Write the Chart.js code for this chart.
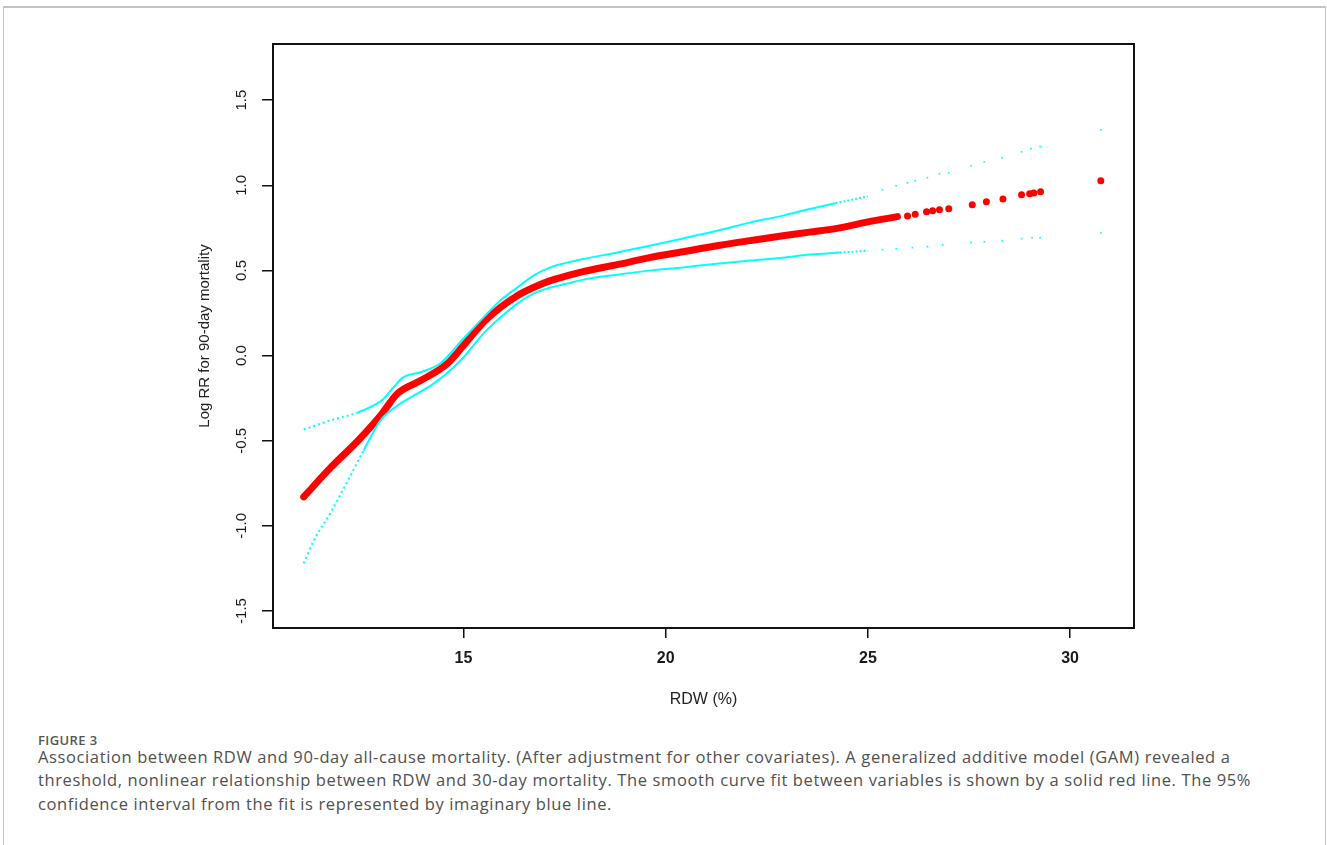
<!DOCTYPE html>
<html>
<head>
<meta charset="utf-8">
<script src="https://cdn.jsdelivr.net/npm/chart.js@4"></script>
<style>
  html, body { margin: 0; padding: 0; background: #fff; }
  body { width: 1327px; height: 845px; position: relative; overflow: hidden; }
  .frame {
    position: absolute; left: 3px; top: 6px; width: 1321px; height: 900px;
    border: 1px solid #c4c4c4; border-top: 2px solid #c4c4c4;
  }
  #chart { position: absolute; left: 0; top: 0; }
  .fig-label {
    position: absolute; left: 38px; top: 731px;
    font-family: "Open Sans", sans-serif; font-size: 13px; font-weight: 600;
    color: #555; letter-spacing: 0.4px;
  }
  .caption {
    position: absolute; left: 38px; top: 745px; width: 1280px;
    font-family: "Open Sans", sans-serif; font-size: 16.5px; line-height: 23.3px;
    letter-spacing: 0.62px; color: #505050; white-space: nowrap;
  }
</style>
</head>
<body>
<div class="frame"></div>
<canvas id="chart" width="1327" height="718"></canvas>
<div class="fig-label">FIGURE 3</div>
<div class="caption">Association between RDW and 90-day all-cause mortality. (After adjustment for other covariates). A generalized additive model (GAM) revealed a<br>threshold, nonlinear relationship between RDW and 30-day mortality. The smooth curve fit between variables is shown by a solid red line. The 95%<br>confidence interval from the fit is represented by imaginary blue line.</div>
<script>
// Smooth GAM fit: log RR against RDW (%) — dense part of the curve
const fitX = [11.05, 11.72, 12.39, 12.95, 13.37, 13.94, 14.6, 15.0, 15.49, 15.91, 16.33, 16.73, 17.15, 17.57, 17.96, 18.8, 19.6, 20.43, 21.27, 22.08, 22.9, 23.56, 24.3, 25.0, 25.73];
const fitY = [-0.83, -0.657, -0.50, -0.352, -0.223, -0.147, -0.047, 0.06, 0.194, 0.282, 0.352, 0.40, 0.44, 0.469, 0.493, 0.534, 0.575, 0.61, 0.645, 0.675, 0.704, 0.725, 0.75, 0.785, 0.816];
// Isolated fitted values at high RDW
const fitSparseX = [25.98, 26.17, 26.45, 26.6, 26.77, 27.0, 27.58, 27.93, 28.34, 28.8, 29.0, 29.1, 29.27, 30.76];
const fitSparseY = [0.82, 0.83, 0.845, 0.85, 0.857, 0.863, 0.886, 0.904, 0.92, 0.945, 0.95, 0.955, 0.962, 1.027];

// Upper 95% confidence bound
const upperX = [11.05, 11.72, 12.39, 12.78, 13.03, 13.27, 13.52, 13.94, 14.43, 15.0, 15.49, 15.91, 16.33, 16.73, 17.15, 17.57, 17.96, 18.8, 19.6, 20.43, 21.27, 22.08, 22.9, 23.56, 24.2, 25.0];
const upperY = [-0.434, -0.38, -0.334, -0.293, -0.253, -0.186, -0.127, -0.098, -0.045, 0.10, 0.223, 0.323, 0.40, 0.47, 0.518, 0.546, 0.567, 0.606, 0.645, 0.688, 0.733, 0.781, 0.822, 0.861, 0.895, 0.935];
const upperSparseX = [25.36, 25.7, 25.98, 26.17, 26.47, 26.77, 27.0, 27.55, 27.88, 28.32, 28.8, 29.03, 29.26, 30.76];
const upperSparseY = [0.974, 0.998, 1.015, 1.027, 1.045, 1.068, 1.074, 1.115, 1.138, 1.162, 1.197, 1.215, 1.227, 1.326];

// Lower 95% confidence bound
const lowerX = [11.05, 11.3, 11.72, 12.14, 12.53, 12.95, 13.37, 13.77, 14.26, 14.75, 15.0, 15.49, 15.91, 16.33, 16.73, 17.15, 17.57, 17.96, 18.8, 19.6, 20.43, 21.27, 22.08, 22.9, 23.56, 24.3, 25.0];
const lowerY = [-1.22, -1.085, -0.92, -0.734, -0.557, -0.38, -0.293, -0.235, -0.165, -0.07, -0.01, 0.129, 0.223, 0.305, 0.364, 0.40, 0.423, 0.446, 0.475, 0.499, 0.518, 0.54, 0.558, 0.575, 0.593, 0.605, 0.616];
const lowerSparseX = [25.36, 25.7, 26.1, 26.47, 26.85, 27.55, 27.88, 28.32, 28.8, 29.06, 29.26, 30.76];
const lowerSparseY = [0.622, 0.628, 0.634, 0.64, 0.651, 0.663, 0.669, 0.675, 0.687, 0.692, 0.692, 0.72];

// Axis ticks
const xTicks = [15, 20, 25, 30];
const yTicks = [-1.5, -1.0, -0.5, 0.0, 0.5, 1.0, 1.5];

const pts = (xs, ys) => xs.map((x, i) => ({ x: x, y: ys[i] }));

const RED = '#ff0000';
const CYAN = '#00ffff';
const AXIS_FONT = '"Liberation Sans", Arial, sans-serif';

// Dotted look where the band has few observations
const sparseDash = ctx => (ctx.p0.parsed.x < 12.3 ? [2, 3] : (ctx.p0.parsed.x > 24.0 ? [2, 2] : undefined));

// Closed frame round the plotting region
const plotBox = {
  id: 'plotBox',
  afterDraw(chart) {
    const a = chart.chartArea, c = chart.ctx;
    c.save();
    c.strokeStyle = '#111';
    c.lineWidth = 2;
    c.strokeRect(a.left, a.top, a.right - a.left, a.bottom - a.top);
    c.restore();
  }
};

new Chart(document.getElementById('chart'), {
  type: 'scatter',
  data: {
    datasets: [
      {
        label: 'upper', data: pts(upperX, upperY), showLine: true,
        borderColor: CYAN, borderWidth: 2, pointRadius: 0, tension: 0.3,
        cubicInterpolationMode: 'monotone', segment: { borderDash: sparseDash }
      },
      {
        label: 'lower', data: pts(lowerX, lowerY), showLine: true,
        borderColor: CYAN, borderWidth: 2, pointRadius: 0, tension: 0.3,
        cubicInterpolationMode: 'monotone', segment: { borderDash: sparseDash }
      },
      {
        label: 'upperSparse', data: pts(upperSparseX, upperSparseY), showLine: false,
        pointStyle: 'rect', pointRadius: 1.2, pointBackgroundColor: CYAN, pointBorderWidth: 0
      },
      {
        label: 'lowerSparse', data: pts(lowerSparseX, lowerSparseY), showLine: false,
        pointStyle: 'rect', pointRadius: 1.2, pointBackgroundColor: CYAN, pointBorderWidth: 0
      },
      {
        label: 'fit', data: pts(fitX, fitY), showLine: true,
        borderColor: RED, borderWidth: 7, borderCapStyle: 'round', pointRadius: 0,
        tension: 0.3, cubicInterpolationMode: 'monotone'
      },
      {
        label: 'fitSparse', data: pts(fitSparseX, fitSparseY), showLine: false,
        pointRadius: 3.5, pointBackgroundColor: RED, pointBorderWidth: 0
      }
    ]
  },
  options: {
    responsive: false,
    animation: false,
    devicePixelRatio: 1,
    layout: { padding: { left: 193, top: 44, right: 193, bottom: 0 } },
    plugins: { legend: { display: false }, tooltip: { enabled: false } },
    elements: { point: { hoverRadius: 0 } },
    scales: {
      x: {
        type: 'linear', min: 10.29, max: 31.58,
        afterBuildTicks: s => { s.ticks = xTicks.map(v => ({ value: v })); },
        afterFit: s => { s.height = 90; },
        border: { display: false },
        grid: { drawOnChartArea: false, drawTicks: true, tickLength: 10, color: '#111', lineWidth: 1.5 },
        ticks: {
          padding: 11, color: '#1a1a1a', autoSkip: false, maxRotation: 0,
          font: { family: AXIS_FONT, size: 16, weight: 'bold' },
          callback: v => String(v)
        },
        title: {
          display: true, text: 'RDW (%)', color: '#222',
          font: { family: AXIS_FONT, size: 16 }, padding: { top: 0, bottom: 9 }
        }
      },
      y: {
        type: 'linear', min: -1.6, max: 1.83,
        afterBuildTicks: s => { s.ticks = yTicks.map(v => ({ value: v })); },
        afterFit: s => { s.width = 80; },
        border: { display: false },
        grid: { drawOnChartArea: false, drawTicks: true, tickLength: 11, color: '#111', lineWidth: 1.5 },
        ticks: {
          padding: 7, color: '#1a1a1a', autoSkip: false,
          minRotation: 90, maxRotation: 90, crossAlign: 'center',
          font: { family: AXIS_FONT, size: 15 },
          callback: v => Number(v).toFixed(1)
        },
        title: {
          display: true, text: 'Log RR for 90-day mortality', color: '#222',
          font: { family: AXIS_FONT, size: 15 }, padding: { top: 3, bottom: 0 }
        }
      }
    }
  },
  plugins: [plotBox]
});
</script>
</body>
</html>
